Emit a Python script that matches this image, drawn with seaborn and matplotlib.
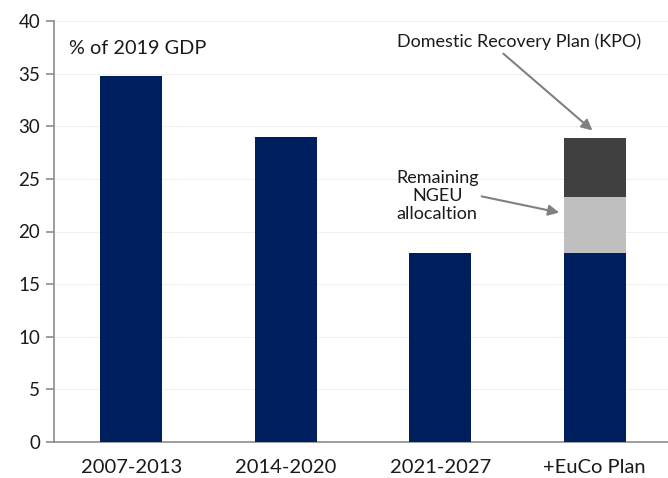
import matplotlib
matplotlib.use("Agg")
import matplotlib.pyplot as plt
import seaborn as sns
import pandas as pd
import numpy as np

# EU funds for Poland, % of 2019 GDP
periods = ["2007-2013", "2014-2020", "2021-2027", "+EuCo Plan"]
cohesion = [34.8, 29.0, 18.0, 18.0]
ngeu_remaining = [0.0, 0.0, 0.0, 5.3]
kpo = [0.0, 0.0, 0.0, 5.6]

navy = "#001F5F"
light_grey = "#BFBFBF"
dark_grey = "#404040"

sns.set_theme(style="white")
plt.rcParams["font.family"] = ["Lato", "DejaVu Sans"]

df = pd.DataFrame({
    "period": periods,
    "cohesion": cohesion,
    "ngeu": ngeu_remaining,
    "kpo": kpo,
})
# cumulative layers, drawn from the tallest down so each stack segment shows
df["lvl2"] = df["cohesion"] + df["ngeu"]
df["lvl3"] = df["lvl2"] + df["kpo"]

fig = plt.figure(figsize=(6.68, 4.78), dpi=100)
ax = fig.add_axes([54 / 668, 36 / 478, 618 / 668, 421 / 478])

for col, colour in [("lvl3", dark_grey), ("lvl2", light_grey), ("cohesion", navy)]:
    sns.barplot(data=df, x="period", y=col, color=colour, width=0.4,
                saturation=1, linewidth=0, ax=ax, zorder=3)

ax.set_xlim(-0.5, 3.5)
ax.set_ylim(0, 40)
ax.set_yticks(np.arange(0, 41, 5))
ax.set_xlabel("")
ax.set_ylabel("")
ax.grid(axis="y", color="#F0F0F0", linewidth=0.8, zorder=0)

for side in ["top", "right"]:
    ax.spines[side].set_visible(False)
for side in ["left", "bottom"]:
    ax.spines[side].set_color("#8C8C8C")
    ax.spines[side].set_linewidth(1.2)

ax.tick_params(axis="y", which="major", left=True, length=6, width=1.2,
               color="#8C8C8C", labelsize=13.5, pad=4, labelcolor="#1a1a1a")
ax.tick_params(axis="x", bottom=False, labelsize=14.5, pad=6, labelcolor="#1a1a1a")

ax.text(-0.4, 37.4, "% of 2019 GDP", fontsize=14.3, ha="left", va="center",
        color="#1a1a1a")

arrow = dict(arrowstyle="-|>", color="#808080", lw=1.5, mutation_scale=16,
             shrinkA=0, shrinkB=0)
ax.annotate("Domestic Recovery Plan (KPO)", xy=(2.985, 29.6), xytext=(2.51, 38.0),
            fontsize=13, ha="center", va="center", color="#1a1a1a",
            arrowprops=dict(arrow, relpos=(0.42, 0.0)))
ax.annotate("Remaining\nNGEU\nallocaltion", xy=(2.77, 21.8), xytext=(1.98, 23.4),
            fontsize=13, ha="center", va="center", color="#1a1a1a",
            linespacing=1.15,
            arrowprops=dict(arrow, relpos=(1.0, 0.5)))

fig.savefig("out.png", dpi=100)
